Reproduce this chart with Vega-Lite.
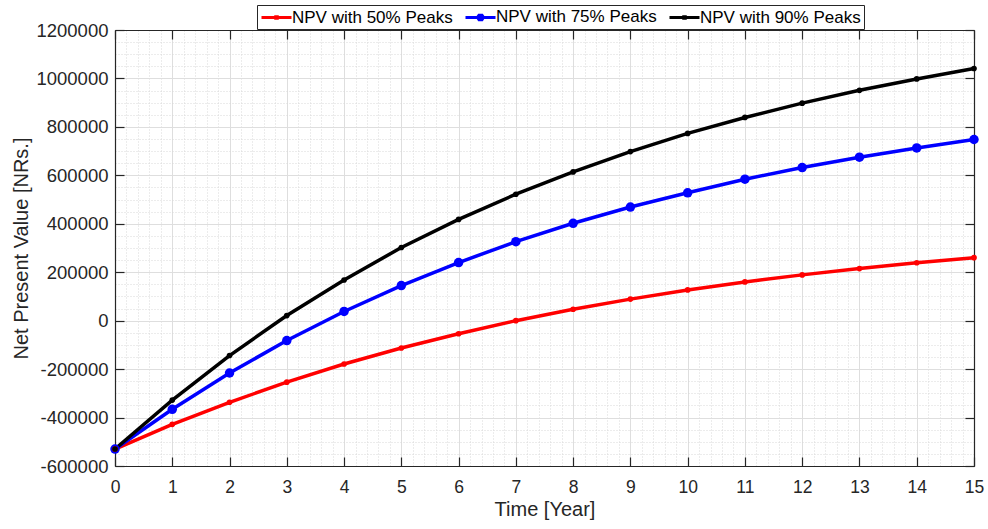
{
  "$schema": "https://vega.github.io/schema/vega-lite/v6.json",
  "width": 859,
  "height": 436,
  "autosize": {"type": "none"},
  "padding": {"left": 115, "top": 30, "right": 14, "bottom": 63},
  "background": "white",
  "config": {
    "view": {"stroke": null},
    "font": "Liberation Sans",
    "axis": {"labelFont": "Liberation Sans", "titleFont": "Liberation Sans", "labelColor": "#262626", "titleColor": "#262626", "domainColor": "#262626", "tickColor": "#262626", "titleFontWeight": "normal"}
  },
  "data": {
    "values": [
      {"t": 0, "s": "NPV with 50% Peaks", "v": -530000},
      {"t": 1, "s": "NPV with 50% Peaks", "v": -428000},
      {"t": 2, "s": "NPV with 50% Peaks", "v": -337000},
      {"t": 3, "s": "NPV with 50% Peaks", "v": -254000},
      {"t": 4, "s": "NPV with 50% Peaks", "v": -179000},
      {"t": 5, "s": "NPV with 50% Peaks", "v": -113000},
      {"t": 6, "s": "NPV with 50% Peaks", "v": -54000},
      {"t": 7, "s": "NPV with 50% Peaks", "v": 0},
      {"t": 8, "s": "NPV with 50% Peaks", "v": 47000},
      {"t": 9, "s": "NPV with 50% Peaks", "v": 89000},
      {"t": 10, "s": "NPV with 50% Peaks", "v": 127000},
      {"t": 11, "s": "NPV with 50% Peaks", "v": 160000},
      {"t": 12, "s": "NPV with 50% Peaks", "v": 189000},
      {"t": 13, "s": "NPV with 50% Peaks", "v": 215000},
      {"t": 14, "s": "NPV with 50% Peaks", "v": 239000},
      {"t": 15, "s": "NPV with 50% Peaks", "v": 260000},
      {"t": 0, "s": "NPV with 75% Peaks", "v": -530000},
      {"t": 1, "s": "NPV with 75% Peaks", "v": -366000},
      {"t": 2, "s": "NPV with 75% Peaks", "v": -216000},
      {"t": 3, "s": "NPV with 75% Peaks", "v": -82000},
      {"t": 4, "s": "NPV with 75% Peaks", "v": 38000},
      {"t": 5, "s": "NPV with 75% Peaks", "v": 145000},
      {"t": 6, "s": "NPV with 75% Peaks", "v": 240000},
      {"t": 7, "s": "NPV with 75% Peaks", "v": 326000},
      {"t": 8, "s": "NPV with 75% Peaks", "v": 402000},
      {"t": 9, "s": "NPV with 75% Peaks", "v": 469000},
      {"t": 10, "s": "NPV with 75% Peaks", "v": 528000},
      {"t": 11, "s": "NPV with 75% Peaks", "v": 584000},
      {"t": 12, "s": "NPV with 75% Peaks", "v": 632000},
      {"t": 13, "s": "NPV with 75% Peaks", "v": 675000},
      {"t": 14, "s": "NPV with 75% Peaks", "v": 713000},
      {"t": 15, "s": "NPV with 75% Peaks", "v": 748000},
      {"t": 0, "s": "NPV with 90% Peaks", "v": -530000},
      {"t": 1, "s": "NPV with 90% Peaks", "v": -328000},
      {"t": 2, "s": "NPV with 90% Peaks", "v": -144000},
      {"t": 3, "s": "NPV with 90% Peaks", "v": 21000},
      {"t": 4, "s": "NPV with 90% Peaks", "v": 168000},
      {"t": 5, "s": "NPV with 90% Peaks", "v": 302000},
      {"t": 6, "s": "NPV with 90% Peaks", "v": 418000},
      {"t": 7, "s": "NPV with 90% Peaks", "v": 522000},
      {"t": 8, "s": "NPV with 90% Peaks", "v": 614000},
      {"t": 9, "s": "NPV with 90% Peaks", "v": 698000},
      {"t": 10, "s": "NPV with 90% Peaks", "v": 773000},
      {"t": 11, "s": "NPV with 90% Peaks", "v": 839000},
      {"t": 12, "s": "NPV with 90% Peaks", "v": 898000},
      {"t": 13, "s": "NPV with 90% Peaks", "v": 951000},
      {"t": 14, "s": "NPV with 90% Peaks", "v": 998000},
      {"t": 15, "s": "NPV with 90% Peaks", "v": 1041000}
    ]
  },
  "layer": [
    {
      "mark": {"type": "line", "opacity": 0},
      "encoding": {
        "x": {"field": "t", "type": "quantitative", "scale": {"domain": [0, 15], "nice": false, "zero": false},
          "axis": {"orient": "bottom", "values": [0.2,0.4,0.6,0.8,1.2,1.4,1.6,1.8,2.2,2.4,2.6,2.8,3.2,3.4,3.6,3.8,4.2,4.4,4.6,4.8,5.2,5.4,5.6,5.8,6.2,6.4,6.6,6.8,7.2,7.4,7.6,7.8,8.2,8.4,8.6,8.8,9.2,9.4,9.6,9.8,10.2,10.4,10.6,10.8,11.2,11.4,11.6,11.8,12.2,12.4,12.6,12.8,13.2,13.4,13.6,13.8,14.2,14.4,14.6,14.8], "grid": true, "gridColor": "#d8d8d8", "gridDash": [1, 2], "gridWidth": 1, "labels": false, "ticks": false, "domain": false, "title": null}},
        "y": {"field": "v", "type": "quantitative", "scale": {"domain": [-600000, 1200000], "nice": false, "zero": false},
          "axis": {"orient": "left", "values": [-550000,-500000,-450000,-350000,-300000,-250000,-150000,-100000,-50000,50000,100000,150000,250000,300000,350000,450000,500000,550000,650000,700000,750000,850000,900000,950000,1050000,1100000,1150000], "grid": true, "gridColor": "#d8d8d8", "gridDash": [1, 2], "gridWidth": 1, "labels": false, "ticks": false, "domain": false, "title": null}},
        "detail": {"field": "s", "type": "nominal"}
      }
    },
    {
      "mark": {"type": "line", "strokeWidth": 3.5},
      "encoding": {
        "x": {"field": "t", "type": "quantitative",
          "axis": {"orient": "bottom", "values": [0,1,2,3,4,5,6,7,8,9,10,11,12,13,14,15], "grid": true, "gridColor": "#dedede", "gridWidth": 1, "ticks": false, "domain": true, "domainWidth": 1.2, "labelFontSize": 17.5, "labelPadding": 12, "labelFlush": false, "title": "Time [Year]", "titleFontSize": 20, "titlePadding": 4}},
        "y": {"field": "v", "type": "quantitative",
          "axis": {"orient": "left", "values": [-600000,-400000,-200000,0,200000,400000,600000,800000,1000000,1200000], "labelExpr": "'' + datum.value", "grid": true, "gridColor": "#dedede", "gridWidth": 1, "ticks": false, "domain": true, "domainWidth": 1.2, "labelFontSize": 18.5, "labelPadding": 7, "labelFlush": false, "title": "Net Present Value [NRs.]", "titleFontSize": 20, "titlePadding": 4}},
        "color": {"field": "s", "type": "nominal",
          "scale": {"domain": ["NPV with 50% Peaks", "NPV with 75% Peaks", "NPV with 90% Peaks"], "range": ["#ff0000", "#0000ff", "#000000"]},
          "legend": {"title": null, "orient": "none", "direction": "horizontal", "legendX": 142, "legendY": -25, "padding": 3, "strokeColor": "#262626", "fillColor": "white", "labelFontSize": 17, "labelFont": "Liberation Sans", "labelColor": "#000000", "labelLimit": 400, "symbolSize": 225, "symbolStrokeWidth": 3, "labelOffset": 14, "columnPadding": 6,
            "encode": {"symbols": {"update": {"shape": {"signal": "datum.value === 'NPV with 75% Peaks' ? 'M-1,0H3M0.8,-0.3H1.2L1.3,-0.15V0.15L1.2,0.3H0.8L0.7,0.15V-0.15Z' : 'M-1,0H3M0.9,-0.1H1.1V0.1H0.9Z'"}, "fill": {"value": "transparent"}, "strokeWidth": {"value": 3}, "size": {"value": 225}, "opacity": {"value": 1}}}}}
        }
      }
    },
    {
      "transform": [{"filter": "datum.s === 'NPV with 75% Peaks'"}],
      "mark": {"type": "point", "filled": true, "size": 90, "opacity": 1},
      "encoding": {
        "x": {"field": "t", "type": "quantitative",
          "axis": {"orient": "bottom", "values": [0,1,2,3,4,5,6,7,8,9,10,11,12,13,14,15], "grid": false, "labels": false, "domain": false, "ticks": true, "tickSize": -9, "tickWidth": 1.2, "title": null}},
        "y": {"field": "v", "type": "quantitative",
          "axis": {"orient": "left", "values": [-600000,-400000,-200000,0,200000,400000,600000,800000,1000000,1200000], "grid": false, "labels": false, "domain": false, "ticks": true, "tickSize": -9, "tickWidth": 1.2, "title": null}},
        "color": {"field": "s", "type": "nominal"}
      }
    },
    {
      "transform": [{"filter": "datum.s !== 'NPV with 75% Peaks'"}],
      "mark": {"type": "point", "filled": true, "size": 32, "opacity": 1},
      "encoding": {
        "x": {"field": "t", "type": "quantitative",
          "axis": {"orient": "top", "values": [0,1,2,3,4,5,6,7,8,9,10,11,12,13,14,15], "grid": false, "labels": false, "domain": true, "domainWidth": 1.2, "ticks": true, "tickSize": -9, "tickWidth": 1.2, "title": null}},
        "y": {"field": "v", "type": "quantitative",
          "axis": {"orient": "right", "values": [-600000,-400000,-200000,0,200000,400000,600000,800000,1000000,1200000], "grid": false, "labels": false, "domain": true, "domainWidth": 1.2, "ticks": true, "tickSize": -9, "tickWidth": 1.2, "title": null}},
        "color": {"field": "s", "type": "nominal"}
      }
    }
  ],
  "resolve": {"axis": {"x": "independent", "y": "independent"}}
}
